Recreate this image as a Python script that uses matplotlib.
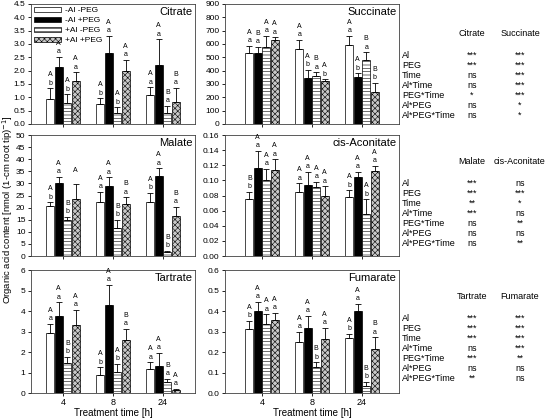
import numpy as np
import matplotlib
matplotlib.use("Agg")
import matplotlib.pyplot as plt

plt.rcParams['font.family'] = ['Liberation Sans', 'DejaVu Sans']
plt.rcParams['hatch.linewidth'] = 0.4

# data: rows = treatment time (4, 8, 24 h), columns = treatments
times = ["4", "8", "24"]
treatments = ["-Al -PEG", "-Al +PEG", "+Al -PEG", "+Al +PEG"]

citrate_mean = [[0.94, 2.12, 0.78, 1.61], [0.75, 2.67, 0.41, 1.99], [1.09, 2.20, 0.42, 0.84]]
citrate_err = [[0.40, 0.40, 0.33, 0.33], [0.21, 0.63, 0.21, 0.41], [0.28, 0.97, 0.25, 0.51]]
citrate_up = [["A", "A", "A", "A"], ["A", "A", "A", "A"], ["A", "A", "B", "B"]]
citrate_low = [["b", "a", "b", "a"], ["b", "a", "b", "a"], ["a", "a", "a", "a"]]

succinate_mean = [[530, 530, 580, 630], [560, 347, 362, 320], [592, 355, 480, 240]]
succinate_err = [[58, 50, 80, 20], [70, 58, 25, 15], [68, 25, 57, 67]]
succinate_up = [["A", "B", "A", "A"], ["A", "A", "B", "A"], ["A", "A", "B", "B"]]
succinate_low = [["a", "a", "a", "a"], ["a", "b", "a", "b"], ["a", "b", "a", "b"]]

malate_mean = [[20.5, 30.0, 14.7, 23.6], [22.2, 29.1, 11.7, 21.6], [22.2, 32.9, 1.6, 16.5]]
malate_err = [[1.7, 2.7, 1.4, 6.1], [4.4, 3.4, 3.3, 2.7], [3.9, 3.3, 0.6, 3.7]]
malate_up = [["A", "A", "B", "A"], ["A", "A", "B", "B"], ["A", "A", "B", "B"]]
malate_low = [["b", "a", "b", ""], ["a", "a", "b", "a"], ["b", "a", "b", "a"]]

aconitate_mean = [[0.076, 0.117, 0.101, 0.114], [0.085, 0.094, 0.091, 0.079], [0.078, 0.104, 0.056, 0.112]]
aconitate_err = [[0.009, 0.022, 0.014, 0.014], [0.011, 0.017, 0.007, 0.013], [0.009, 0.007, 0.019, 0.007]]
aconitate_up = [["B", "A", "A", "A"], ["A", "A", "A", "A"], ["A", "A", "A", "A"]]
aconitate_low = [["b", "a", "a", "a"], ["a", "a", "a", "a"], ["b", "a", "b", "a"]]

tartrate_mean = [[2.95, 3.75, 1.47, 3.33], [0.87, 4.28, 1.03, 2.58], [1.17, 1.33, 0.53, 0.13]]
tartrate_err = [[0.42, 0.67, 0.28, 0.72], [0.38, 1.00, 0.39, 0.55], [0.33, 0.64, 0.17, 0.07]]
tartrate_up = [["A", "A", "B", "A"], ["A", "A", "A", "B"], ["A", "A", "B", "A"]]
tartrate_low = [["a", "a", "b", "a"], ["b", "a", "b", "a"], ["a", "a", "a", "a"]]

fumarate_mean = [[0.314, 0.401, 0.336, 0.355], [0.248, 0.318, 0.127, 0.264], [0.269, 0.401, 0.033, 0.213]]
fumarate_err = [[0.037, 0.045, 0.048, 0.036], [0.049, 0.057, 0.022, 0.053], [0.020, 0.033, 0.021, 0.059]]
fumarate_up = [["A", "A", "A", "A"], ["A", "A", "B", "A"], ["A", "A", "B", "B"]]
fumarate_low = [["b", "a", "a", "a"], ["a", "a", "b", "a"], ["b", "a", "b", "a"]]

effects = ["Al", "PEG", "Time", "Al*Time", "PEG*Time", "Al*PEG", "Al*PEG*Time"]
sig_citrate = ["***", "***", "ns", "ns", "*", "ns", "ns"]
sig_succinate = ["***", "***", "***", "***", "***", "*", "*"]
sig_malate = ["***", "***", "**", "***", "ns", "ns", "ns"]
sig_aconitate = ["ns", "***", "*", "ns", "**", "ns", "**"]
sig_tartrate = ["***", "***", "***", "ns", "***", "ns", "**"]
sig_fumarate = ["***", "***", "***", "***", "**", "ns", "ns"]

# bar styles
faces = ["white", "black", "white", "#c8c8c8"]
hatches = [None, None, "-----", "xxxxxx"]
offsets = [-0.255, -0.085, 0.085, 0.255]
width = 0.155

fig = plt.figure(figsize=(5.48, 4.19), dpi=100)

W, H = 548.0, 419.0
cols = [(31, 164), (225, 174)]
rows = [(4, 124), (135, 256), (270, 393)]


def make_ax(col, row):
    x0, w = cols[col]
    t, b = rows[row]
    return fig.add_axes([x0 / W, 1 - b / H, w / W, (b - t) / H])


def draw_panel(ax, name, mean, err, up, low, ymax, ystep, fmt, half, bottom):
    mean = np.array(mean)
    err = np.array(err)
    x = np.arange(len(times))
    for j in range(4):
        ax.bar(x + offsets[j], mean[:, j], width, color=faces[j], hatch=hatches[j],
               edgecolor="black", linewidth=0.5, zorder=2)
        ax.errorbar(x + offsets[j], mean[:, j],
                    yerr=[np.zeros(3), err[:, j]], fmt="none", ecolor="black",
                    elinewidth=0.6, capsize=2, capthick=0.6, zorder=3)
        for i in range(3):
            top = mean[i, j] + err[i, j]
            ax.annotate(low[i][j], (x[i] + offsets[j], top), xytext=(0, 1.2),
                        textcoords="offset points", ha="center", va="bottom", fontsize=5)
            ax.annotate(up[i][j], (x[i] + offsets[j], top), xytext=(0, 7.2),
                        textcoords="offset points", ha="center", va="bottom", fontsize=5)
    ax.set_xlim(-half, 2 + half)
    ax.set_ylim(0, ymax)
    ax.set_yticks(np.arange(0, ymax + ystep / 2, ystep))
    ax.yaxis.set_major_formatter(plt.FormatStrFormatter(fmt))
    ax.set_xticks(x)
    if bottom:
        ax.set_xticklabels(times, fontsize=6.5)
        ax.set_xlabel("Treatment time [h]", fontsize=7, labelpad=0.5)
    else:
        ax.set_xticklabels([])
    ax.tick_params(axis="y", labelsize=6, length=2.5, width=0.6, pad=1.5)
    ax.tick_params(axis="x", length=2.5, width=0.6, pad=1.2)
    for s in ax.spines.values():
        s.set_linewidth(0.6)
        s.set_color("#404040")
    ax.text(0.985, 0.975, name, transform=ax.transAxes, ha="right", va="top", fontsize=8)


ax = make_ax(0, 0)
draw_panel(ax, "Citrate", citrate_mean, citrate_err, citrate_up, citrate_low, 4.5, 0.5, "%.1f", 0.64, False)
handles = [plt.Rectangle((0, 0), 1, 1, facecolor=faces[j], hatch=hatches[j], edgecolor="black", linewidth=0.5)
           for j in range(4)]
ax.legend(handles, treatments, loc="upper left", frameon=False, fontsize=6,
          handlelength=3.2, handleheight=0.55, labelspacing=0.3, handletextpad=0.5,
          borderaxespad=0.15, borderpad=0.2)

ax = make_ax(1, 0)
draw_panel(ax, "Succinate", succinate_mean, succinate_err, succinate_up, succinate_low, 900, 100, "%d", 0.74, False)
ax = make_ax(0, 1)
draw_panel(ax, "Malate", malate_mean, malate_err, malate_up, malate_low, 50, 5, "%d", 0.64, False)
ax = make_ax(1, 1)
draw_panel(ax, "cis-Aconitate", aconitate_mean, aconitate_err, aconitate_up, aconitate_low, 0.16, 0.02, "%.2f", 0.74, False)
ax = make_ax(0, 2)
draw_panel(ax, "Tartrate", tartrate_mean, tartrate_err, tartrate_up, tartrate_low, 6, 1, "%d", 0.64, True)
ax = make_ax(1, 2)
draw_panel(ax, "Fumarate", fumarate_mean, fumarate_err, fumarate_up, fumarate_low, 0.6, 0.1, "%.1f", 0.74, True)

fig.text(7.5 / W, 0.5, "Organic acid content [nmol (1-cm root tip)$^{-1}$]", rotation=90,
         ha="center", va="center", fontsize=6.8)

# statistics tables
tables = [
    (33, ("Citrate", "Succinate"), sig_citrate, sig_succinate),
    (161, ("Malate", "cis-Aconitate"), sig_malate, sig_aconitate),
    (296, ("Tartrate", "Fumarate"), sig_tartrate, sig_fumarate),
]
for ytop, heads, s1, s2 in tables:
    fig.text(472 / W, 1 - ytop / H, heads[0], ha="center", va="center", fontsize=6.5)
    fig.text(520 / W, 1 - ytop / H, heads[1], ha="center", va="center", fontsize=6.5)
    for k, eff in enumerate(effects):
        yy = 1 - (ytop + 22 + k * 10) / H
        fig.text(402 / W, yy, eff, ha="left", va="center", fontsize=6.5)
        fig.text(472 / W, yy, s1[k], ha="center", va="center", fontsize=6.5)
        fig.text(520 / W, yy, s2[k], ha="center", va="center", fontsize=6.5)

fig.savefig("out.png", dpi=100)
